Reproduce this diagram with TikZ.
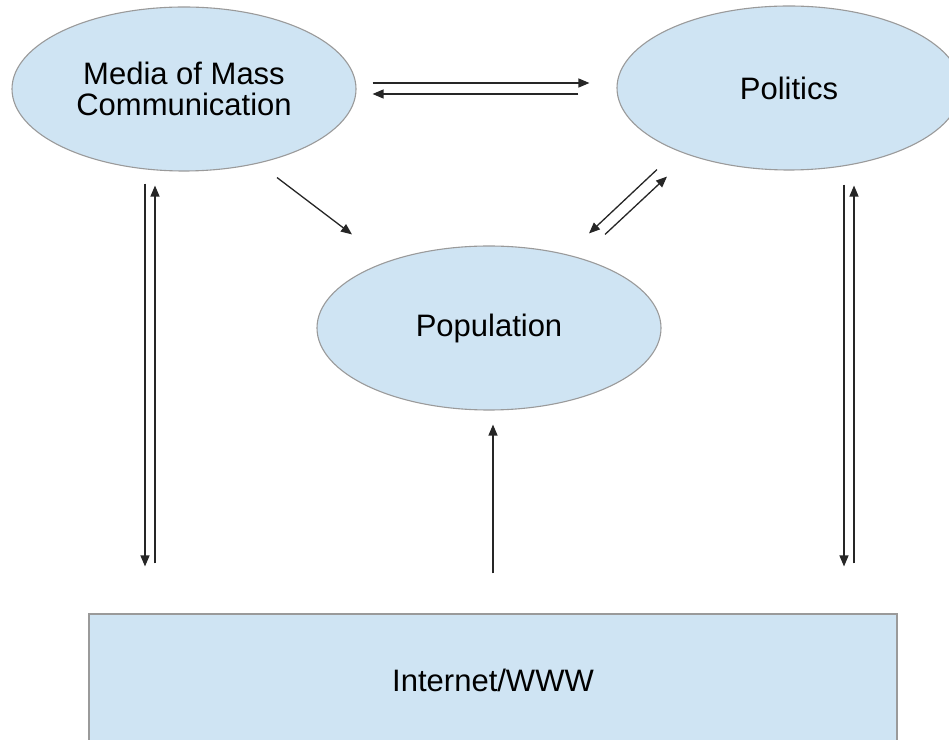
\documentclass[tikz,border=0pt]{standalone}
\usepackage{fontspec}
\setmainfont{Liberation Sans}
\usetikzlibrary{shapes.geometric,arrows.meta}
\definecolor{blobfill}{HTML}{CFE4F3}
\definecolor{blobline}{HTML}{9A9A9A}

\begin{document}
\begin{tikzpicture} [x=1pt,y=1pt,
       blob/.style={ellipse,draw=blobline,line width=1.1pt,fill=blobfill,
         minimum width=344pt,minimum height=164pt,inner sep=0pt,
         align=center,font=\fontsize{31}{31}\selectfont},
       netbox/.style={rectangle,draw=blobline,line width=1.1pt,fill=blobfill,
         minimum width=808pt,minimum height=132pt,inner sep=0pt,
         font=\fontsize{31}{31}\selectfont},
       link/.style={draw=black!85,line width=1.3pt,-{Triangle[length=11pt,width=9pt]}}]
       \useasboundingbox (0,0) rectangle (949,739);
       \node [blob] (media) at (184,650) {Media of Mass\\Communication};
       \node [blob] (politics) at (789,651) {Politics};
       \node [blob] (population) at (489,411) {Population};
       \node [netbox] (internet) at (493,59) {Internet/WWW};
       % media <-> politics
       \draw [link] ([shift={(16,6)}]media.east) -- ([shift={(-27,5)}]politics.west);
       \draw [link] ([shift={(-38,-6)}]politics.west) -- ([shift={(16,-5)}]media.east);
       % towards population
       \draw [link] ([shift={(93,-6)}]media.south) -- ([shift={(-137,11)}]population.north);
       \draw [link] ([shift={(-132,1)}]politics.south) -- ([shift={(100,12)}]population.north);
       \draw [link] ([shift={(116,11)}]population.north) -- ([shift={(-122,-6)}]politics.south);
       % internet links
       \draw [link] ([shift={(-39,-12)}]media.south) -- ([shift={(-348,47)}]internet.north);
       \draw [link] ([shift={(-338,50)}]internet.north) -- ([shift={(-29,-14)}]media.south);
       \draw [link] ([shift={(55,-14)}]politics.south) -- ([shift={(351,47)}]internet.north);
       \draw [link] ([shift={(361,50)}]internet.north) -- ([shift={(65,-15)}]politics.south);
       \draw [link] ([shift={(0,40)}]internet.north) -- ([shift={(4,-14)}]population.south);
\end{tikzpicture}
\end{document}
